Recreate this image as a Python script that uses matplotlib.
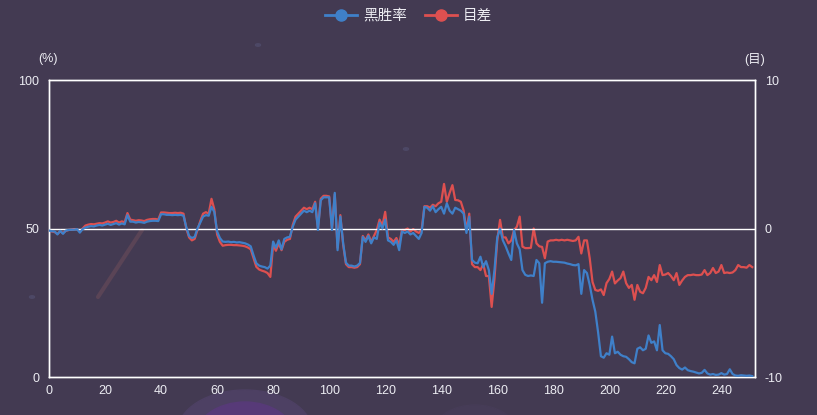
import matplotlib
matplotlib.use("Agg")
import matplotlib.pyplot as plt
from matplotlib.lines import Line2D
from matplotlib.patches import Ellipse, Circle

plt.rcParams["font.family"] = ["Liberation Sans", "Noto Sans CJK SC", "DejaVu Sans"]
plt.rcParams["axes.unicode_minus"] = False

# black win rate (%) per move
win_rate = [
    49.3, 49.1, 49.0, 48.0, 49.2, 48.2, 49.3, 49.5, 49.6, 49.6, 49.8, 48.6, 49.8,
    50.3, 50.6, 50.8, 50.7, 51.0, 51.2, 51.0, 51.3, 51.6, 51.2, 51.5, 51.8, 51.3, 51.7, 51.4,
    54.5, 52.3, 52.3, 52.0, 52.2, 52.1, 51.9, 52.3, 52.5, 52.6, 52.6, 52.5,
    54.8, 54.8, 54.6, 54.6, 54.5, 54.6, 54.5, 54.6, 54.3,
    50.5, 47.5, 46.8, 47.2, 50.0, 52.0, 54.0, 54.5, 54.3, 57.3, 55.6, 49.0, 46.8,
    45.6, 45.5, 45.6, 45.4, 45.5, 45.3, 45.4, 45.2, 45.0, 44.6, 44.0,
    41.0, 38.3, 37.5, 37.2, 37.0, 36.5, 37.5,
    45.6, 43.5, 46.0, 43.0, 46.5, 47.0, 47.2,
    50.6, 53.0, 54.0, 55.0, 56.0,
    55.5, 56.0, 55.5, 58.5, 49.5,
    59.5, 60.5, 60.5, 60.5, 49.5, 62.0, 42.7, 54.0,
    45.0, 38.5, 37.5, 37.5, 37.2, 37.5, 38.4,
    47.2, 45.5, 47.5, 45.0, 47.0, 46.5, 52.0, 50.0, 53.0, 46.0, 45.5, 44.5, 46.0, 42.7,
    49.0, 48.5, 49.0, 48.0, 48.5, 47.5, 46.5, 48.5,
    57.3, 57.0, 56.0, 57.5, 55.5, 56.5, 57.3, 55.0, 58.5, 56.0, 55.0, 57.0, 56.5, 56.0,
    55.0, 48.5, 54.0,
    39.4, 38.5, 38.3, 40.5, 37.0, 39.0, 36.0,
    28.0, 36.0,
    47.0, 50.0, 46.0, 44.0, 41.6, 39.4, 49.5, 45.0, 43.0, 36.0, 34.4, 34.0, 34.2, 34.0,
    39.4, 38.3, 25.0, 38.3, 38.8, 39.0,
    38.8, 38.8, 38.7, 38.6, 38.5, 38.2, 38.0, 37.7, 37.6, 38.0,
    28.0, 36.0, 35.0, 31.0, 26.0, 22.0, 15.0, 7.0, 6.5, 8.0, 7.5, 13.6,
    8.0, 8.5, 7.5, 7.0, 6.8, 6.0, 5.0, 4.6, 9.5, 10.0, 9.0, 9.5, 14.0, 11.5, 12.0, 9.0,
    17.5, 9.0, 8.0, 7.8, 7.0, 6.0,
    4.0, 3.0, 2.5, 3.2, 2.3, 2.0, 1.8, 1.5, 1.2, 1.4, 2.4, 1.2, 0.8, 1.0, 0.7, 0.8,
    1.3, 0.8, 1.0, 2.6, 1.0, 0.5, 0.4, 0.6, 0.5, 0.4, 0.5, 0.3,
]

# score difference (moku) per move
score_diff = [
    -0.14, -0.2, -0.24, -0.36, -0.2, -0.3, -0.16, -0.1, -0.08, -0.04, -0.04, -0.2, 0.0,
    0.2, 0.26, 0.3, 0.28, 0.32, 0.36, 0.34, 0.4, 0.48, 0.4, 0.44, 0.52, 0.4, 0.48, 0.42,
    1.04, 0.6, 0.56, 0.52, 0.56, 0.54, 0.5, 0.58, 0.62, 0.64, 0.64, 0.6,
    1.08, 1.08, 1.06, 1.04, 1.04, 1.06, 1.04, 1.06, 1.0,
    0.0, -0.6, -0.8, -0.7, -0.1, 0.5, 1.0, 1.1, 1.0, 2.0, 1.3, -0.4, -0.9,
    -1.16, -1.12, -1.1, -1.1, -1.12, -1.12, -1.14, -1.16, -1.2, -1.28, -1.4,
    -2.0, -2.58, -2.76, -2.84, -2.9, -3.0, -3.26,
    -1.1, -1.5, -1.0, -1.46, -0.9, -0.76, -0.7,
    0.24, 0.8, 1.0, 1.2, 1.4,
    1.3, 1.4, 1.3, 1.8, 0.0,
    2.0, 2.2, 2.2, 2.16, 0.0, 2.3, -1.3, 0.9,
    -1.1, -2.4, -2.6, -2.6, -2.64, -2.6, -2.4,
    -0.5, -0.8, -0.4, -0.9, -0.5, -0.1, 0.6, 0.2, 1.12, -0.6, -0.7, -0.9, -0.64, -1.1,
    -0.1, -0.1, 0.0, -0.2, -0.04, -0.2, -0.3, -0.1,
    1.5, 1.5, 1.4, 1.6, 1.5, 1.7, 1.8, 3.0, 1.8, 2.4, 2.92, 1.92, 1.9, 1.8,
    1.2, -0.1, 1.0,
    -2.4, -2.6, -2.6, -2.8, -2.4, -3.2, -3.2,
    -5.28, -3.4,
    -0.8, 0.58, -0.6, -0.6, -1.0, -0.8, -0.1, 0.12, 0.8, -1.22, -1.32, -1.32, -1.3, 0.0,
    -1.0, -1.2, -1.24, -2.0, -0.88, -0.8,
    -0.8, -0.76, -0.8, -0.76, -0.8, -0.76, -0.8, -0.84, -0.8, -0.56,
    -1.68, -0.8, -0.8, -2.0, -3.6, -4.14, -4.2, -4.1,
    -4.48, -3.68, -3.4, -2.9, -3.7, -3.5, -3.34, -2.9, -3.68, -4.0, -3.8, -4.8, -3.8,
    -4.26, -4.36, -4.0, -3.26, -3.48, -3.14, -3.6, -2.46, -3.14, -3.1, -3.0, -3.2, -3.48,
    -3.0, -3.8, -3.5, -3.26, -3.14, -3.14, -3.1, -3.14, -3.14, -3.1, -2.8, -3.14, -3.0,
    -2.66, -3.0, -2.9, -2.46, -3.0, -2.96, -3.0, -2.96, -2.8, -2.46, -2.6, -2.6, -2.64,
    -2.46, -2.6,
]

moves = list(range(len(win_rate)))
x_ticks = list(range(0, 241, 20))

BG = "#433a52"
BLUE = "#3f80c9"
RED = "#dd5050"
TEXT = "#ececf2"

fig = plt.figure(figsize=(8.17, 4.15), dpi=100, facecolor=BG)

# background decoration
W, H = 817, 415
fig.patches.append(Ellipse((245 / W, 1 - 432 / H), 135 / W, 84 / H,
                           transform=fig.transFigure, color="#4d4063", zorder=0))
fig.patches.append(Ellipse((245 / W, 1 - 438 / H), 100 / W, 72 / H,
                           transform=fig.transFigure, color="#573a78", zorder=0))
fig.patches.append(Ellipse((475 / W, 1 - 430 / H), 80 / W, 50 / H,
                           transform=fig.transFigure, color="#463c57", zorder=0))
fig.lines.append(Line2D([98 / W, 142 / W], [1 - 297 / H, 1 - 230 / H],
                        transform=fig.transFigure, color="#5a4456", lw=3,
                        solid_capstyle="round", zorder=0))
for cx, cy in [(258, 45), (406, 149), (32, 297)]:
    fig.patches.append(Circle((cx / W, 1 - cy / H), 2.5 / W,
                              transform=fig.transFigure, color="#4d4866", zorder=0))

ax = fig.add_axes([49 / W, 1 - 377 / H, (755 - 49) / W, (377 - 80) / H])
ax2 = ax.twinx()
ax.set_zorder(ax2.get_zorder() + 1)
ax.patch.set_visible(False)
ax2.patch.set_visible(False)

ax2.plot(moves, score_diff, color=RED, lw=1.6, zorder=2)
ax.plot(moves, win_rate, color=BLUE, lw=1.6, zorder=3)

ax.set_xlim(0, 252)
ax.set_ylim(0, 100)
ax2.set_ylim(-10, 10)
ax.set_yticks([0, 50, 100])
ax2.set_yticks([-10, 0, 10])
ax.set_xticks(x_ticks)
ax.axhline(50, color="white", lw=1, zorder=1)

for a in (ax, ax2):
    for s in a.spines.values():
        s.set_color("white")
        s.set_linewidth(1)
    a.tick_params(length=0, colors=TEXT, labelsize=9)
ax.tick_params(axis="y", pad=7)
ax.tick_params(axis="x", pad=6)
ax2.tick_params(axis="y", pad=7)

fig.text(48 / W, 1 - 59 / H, "(%)", color=TEXT, fontsize=9, ha="center", va="center")
fig.text(755 / W, 1 - 59 / H, "(目)", color=TEXT, fontsize=9, ha="center", va="center")

handles = [
    Line2D([], [], color=BLUE, lw=2, marker="o", markersize=8),
    Line2D([], [], color=RED, lw=2, marker="o", markersize=8),
]
fig.legend(handles, ["黑胜率", "目差"], loc="center", bbox_to_anchor=(0.5, 1 - 16 / H),
           ncol=2, frameon=False, labelcolor=TEXT, fontsize=10.5, handlelength=2.2,
           handletextpad=0.4, columnspacing=1.2)

fig.savefig("out.png", dpi=100, facecolor=BG)
